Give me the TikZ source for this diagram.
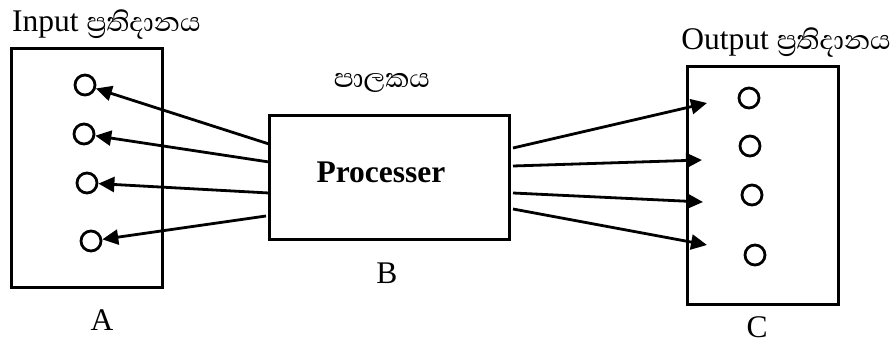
\documentclass[tikz,border=0pt]{standalone}
\usepackage{fontspec}
\setmainfont{Liberation Serif}
\newfontfamily\sinhala[Script=Sinhala,Scale=1.08]{Abhaya Libre}
\usetikzlibrary{arrows.meta}

\begin{document}
\begin{tikzpicture}[x=1pt, y=-1pt,
		every node/.style={font=\fontsize{31.5}{36}\selectfont},
		block/.style={draw, rectangle, line width=3pt, inner sep=0pt},
		port/.style={draw, circle, line width=2.8pt, minimum size=20pt, inner sep=0pt},
		link/.style={line width=2.8pt, -{Triangle[length=16pt, width=15pt]}}]
		\useasboundingbox (0, 0) rectangle (895, 342);
		
		\node[block, minimum width=151pt, minimum height=238pt] (inbox) at (86.5, 168) {};
		\node[block, minimum width=240pt, minimum height=123pt] (proc) at (389, 177.5) {};
		\node[block, minimum width=151pt, minimum height=237pt] (outbox) at (762.5, 185.5) {};
		
		\node[port] (i1) at (85, 85) {};
		\node[port] (i2) at (84, 134) {};
		\node[port] (i3) at (87, 183) {};
		\node[port] (i4) at (91, 241) {};
		
		\node[port] (o1) at (749, 98) {};
		\node[port] (o2) at (750, 146) {};
		\node[port] (o3) at (752, 195) {};
		\node[port] (o4) at (755, 255) {};
		
		\node[anchor=base west, inner sep=0pt] (inlabel) at (12, 32) {Input {\sinhala ප්^^^^200dරතිදානය}};
		\node[anchor=base east, inner sep=0pt] (outlabel) at (891, 50) {Output {\sinhala ප්^^^^200dරතිදානය}};
		\node[anchor=base] (proclabel) at (382, 88) {\sinhala පාලකය};
		\node[anchor=base] (procname) at (381, 183) {\textbf{Processer}};
		\node[anchor=base] (a) at (102, 330) {A};
		\node[anchor=base] (b) at (387, 283) {B};
		\node[anchor=base] (c) at (757, 337) {C};
		
		% ends of the arrows at the processor
		\coordinate (pl1) at (269, 144);
		\coordinate (pl2) at (269, 162);
		\coordinate (pl3) at (269, 193);
		\coordinate (pl4) at (266, 216);
		\coordinate (pr1) at (513, 148);
		\coordinate (pr2) at (513, 166);
		\coordinate (pr3) at (513, 193);
		\coordinate (pr4) at (513, 209);
		
		% free ends inside the output box
		\coordinate (t1) at (707, 103);
		\coordinate (t2) at (702, 160);
		\coordinate (t3) at (703, 202);
		\coordinate (t4) at (707, 245);
		
		\draw[link] (pl1) -- (i1);
		\draw[link] (pl2) -- (i2);
		\draw[link] (pl3) -- (i3);
		\draw[link] (pl4) -- (i4);
		
		\draw[link] (pr1) -- (t1);
		\draw[link] (pr2) -- (t2);
		\draw[link] (pr3) -- (t3);
		\draw[link] (pr4) -- (t4);
	\end{tikzpicture}
\end{document}
